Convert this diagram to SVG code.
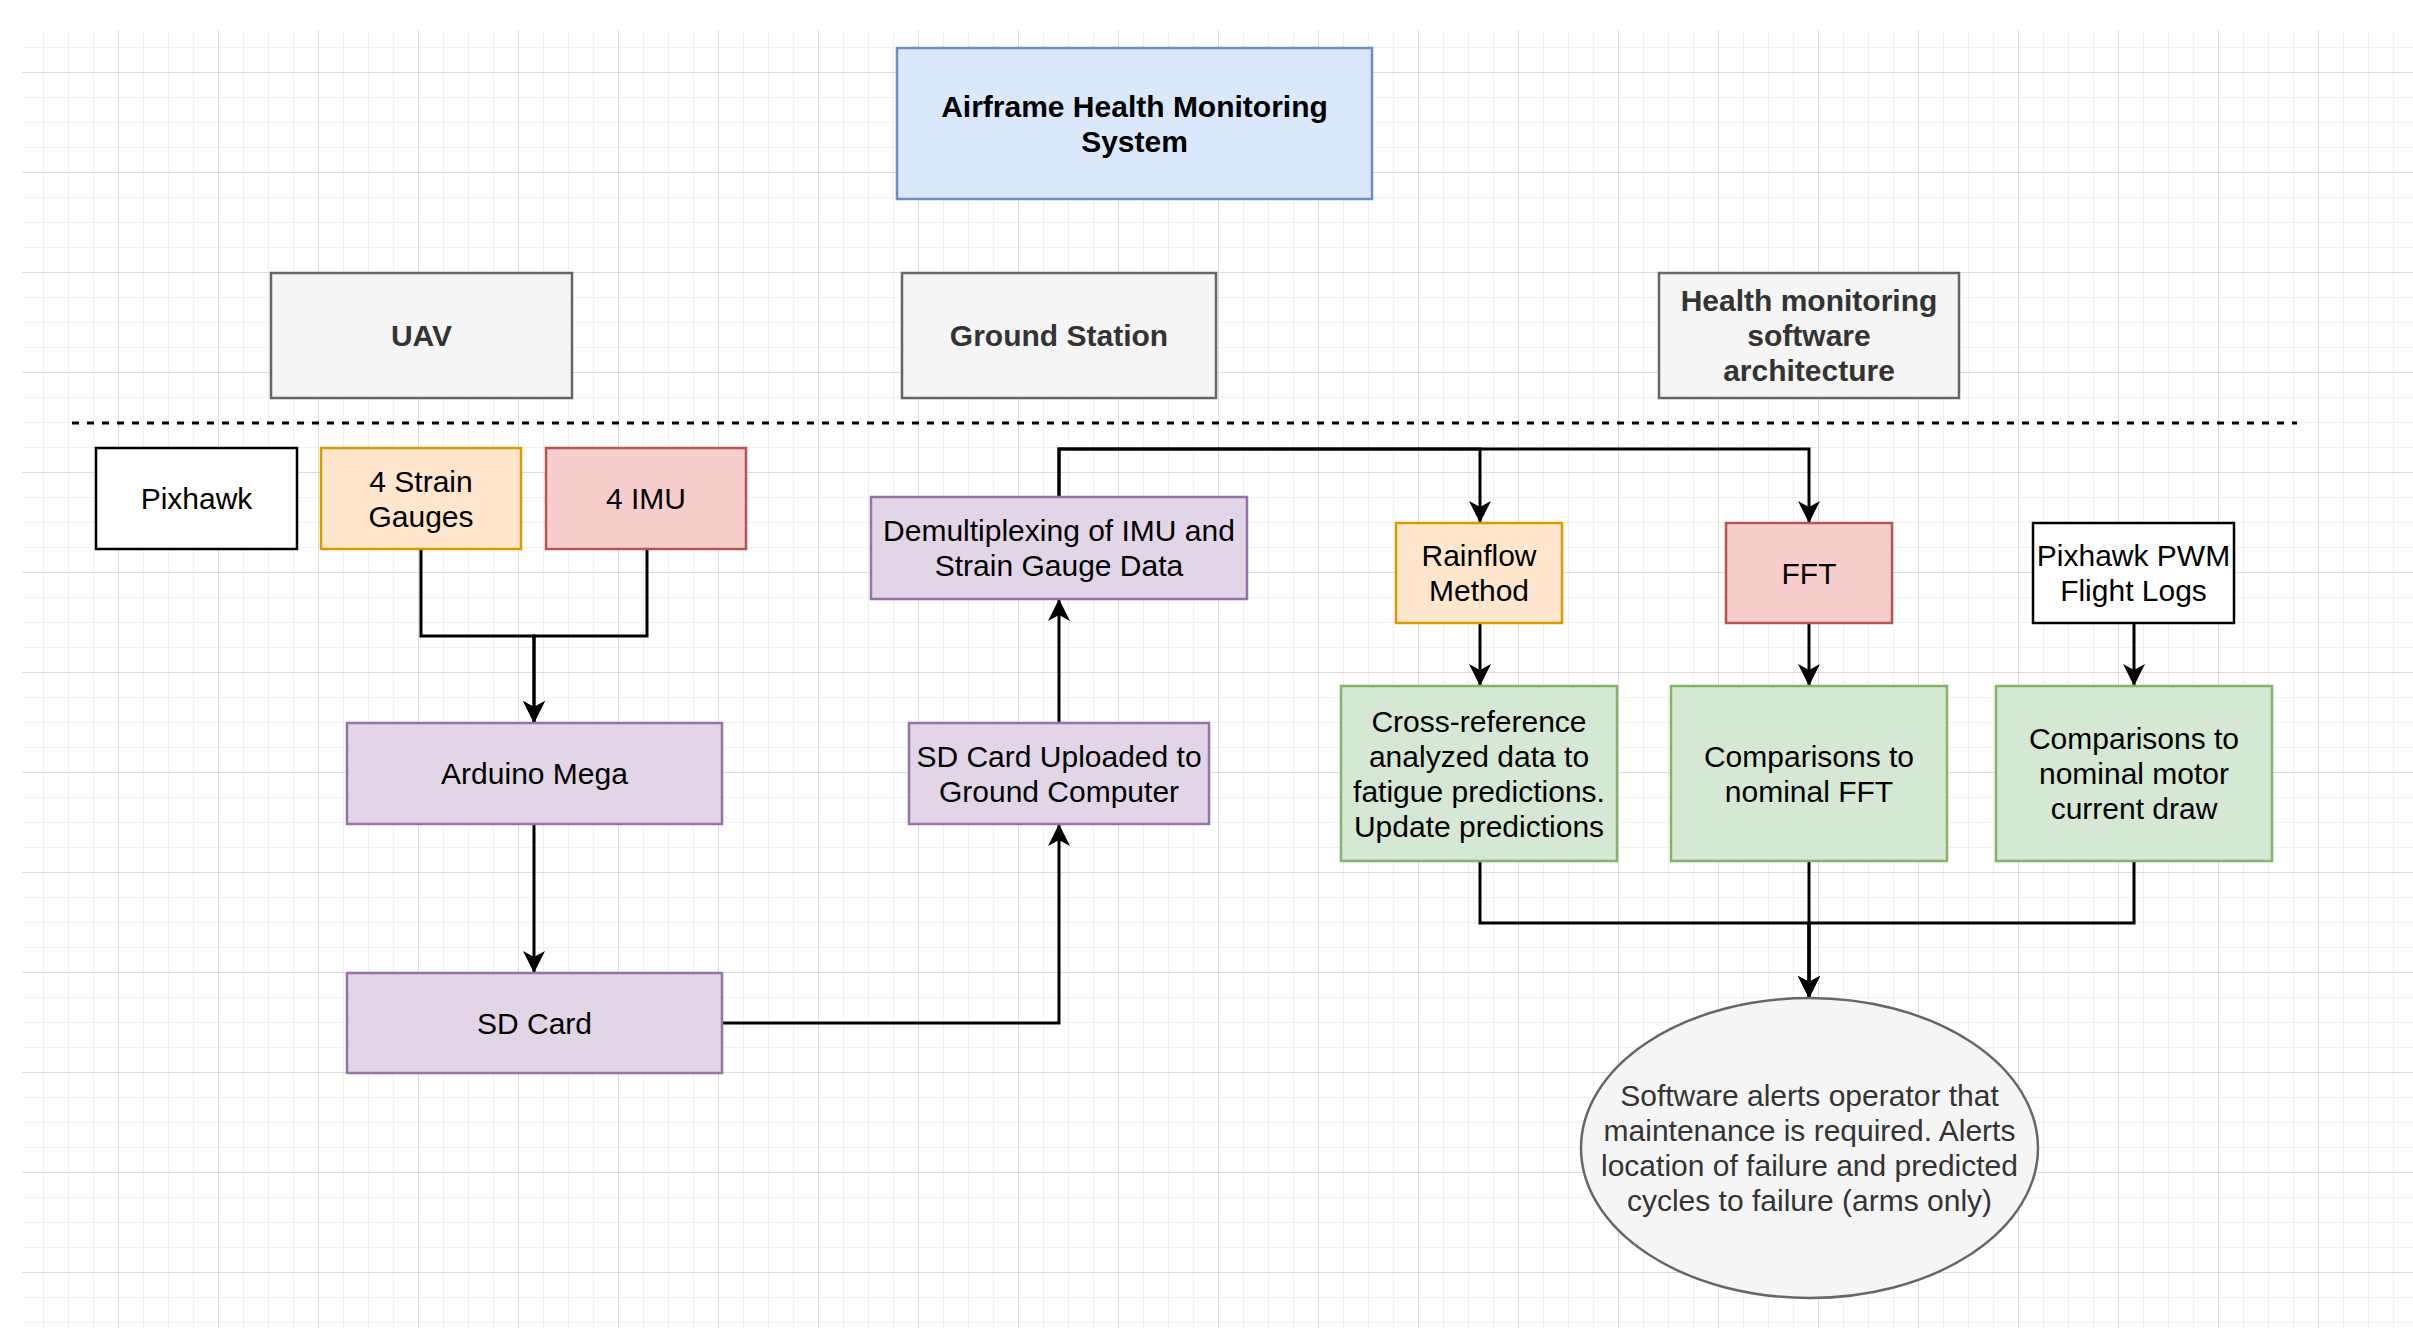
<svg xmlns="http://www.w3.org/2000/svg" width="2413" height="1328" viewBox="0 0 2413 1328">
<defs>
<pattern id="gMinor" patternUnits="userSpaceOnUse" x="18" y="22" width="25" height="25">
<rect x="-0.75" y="0" width="1.5" height="25" fill="#ececec"/>
<rect x="0" y="-0.75" width="25" height="1.5" fill="#ececec"/>
</pattern>
<pattern id="gMajor" patternUnits="userSpaceOnUse" x="18" y="72" width="100" height="100">
<rect x="-0.6" y="0" width="1.2" height="100" fill="#cfcfcf"/>
<rect x="0" y="-0.6" width="100" height="1.2" fill="#cfcfcf"/>
</pattern>
<marker id="arr" markerUnits="userSpaceOnUse" viewBox="0 0 22 22" refX="22" refY="11" markerWidth="22" markerHeight="22" orient="auto">
<path d="M0,0 L22,11 L0,22 L6,11 Z" fill="#000"/>
</marker>
</defs>
<style>
.t{font-family:"Liberation Sans",Arial,Helvetica,sans-serif;font-size:30px;text-anchor:middle;fill:#000}
.b{font-weight:bold}
.g{fill:#333333}
.blue{fill:#dae8fc;stroke:#6c8ebf;stroke-width:2.5}
.grey{fill:#f5f5f5;stroke:#666666;stroke-width:2.5}
.white{fill:#ffffff;stroke:#000000;stroke-width:2.5}
.orange{fill:#ffe6cc;stroke:#d79b00;stroke-width:2.5}
.red{fill:#f8cecc;stroke:#b85450;stroke-width:2.5}
.purple{fill:#e1d5e7;stroke:#9673a6;stroke-width:2.5}
.green{fill:#d5e8d4;stroke:#82b366;stroke-width:2.5}
.c{fill:none;stroke:#000;stroke-width:3}
.ca{fill:none;stroke:#000;stroke-width:3;marker-end:url(#arr)}
</style>
<rect x="0" y="0" width="2413" height="1328" fill="#ffffff"/>
<g id="grid">
<rect x="22" y="30" width="2391" height="1298" fill="url(#gMinor)"/>
<rect x="22" y="30" width="2391" height="1298" fill="url(#gMajor)"/>
</g>
<line id="separator" x1="72" y1="423" x2="2297" y2="423" stroke="#000" stroke-width="3" stroke-dasharray="7 8"/>
<g id="connectors">
<path class="ca" d="M421,549 V636 H534 V723"/>
<path class="ca" d="M647,549 V636 H534 V723"/>
<path class="ca" d="M534,824 V973"/>
<path class="ca" d="M722,1023 H1059 V824"/>
<path class="ca" d="M1059,723 V599"/>
<path class="ca" d="M1059,497 V449 H1480 V523"/>
<path class="ca" d="M1059,497 V449 H1809 V523"/>
<path class="ca" d="M1480,623 V686"/>
<path class="ca" d="M1809,623 V686"/>
<path class="ca" d="M2134,623 V686"/>
<path class="ca" d="M1480,861 V923 H1809 V998"/>
<path class="ca" d="M1809,861 V998"/>
<path class="ca" d="M2134,861 V923 H1809 V998"/>
</g>
<g id="airframe">
<rect class="blue" x="897" y="48" width="475" height="151"/>
<text class="t b" x="1134.5" y="116.5">Airframe Health Monitoring</text>
<text class="t b" x="1134.5" y="151.5">System</text>
</g>
<g id="uav">
<rect class="grey" x="271" y="273" width="301" height="125"/>
<text class="t b g" x="421.5" y="346">UAV</text>
</g>
<g id="ground-station">
<rect class="grey" x="902" y="273" width="314" height="125"/>
<text class="t b g" x="1059" y="346">Ground Station</text>
</g>
<g id="health-software">
<rect class="grey" x="1659" y="273" width="300" height="125"/>
<text class="t b g" x="1809" y="311">Health monitoring</text>
<text class="t b g" x="1809" y="346">software</text>
<text class="t b g" x="1809" y="381">architecture</text>
</g>
<g id="pixhawk">
<rect class="white" x="96" y="448" width="201" height="101"/>
<text class="t" x="196.5" y="509">Pixhawk</text>
</g>
<g id="strain-gauges">
<rect class="orange" x="321" y="448" width="200" height="101"/>
<text class="t" x="421" y="491.5">4 Strain</text>
<text class="t" x="421" y="526.5">Gauges</text>
</g>
<g id="imu">
<rect class="red" x="546" y="448" width="200" height="101"/>
<text class="t" x="646" y="509">4 IMU</text>
</g>
<g id="demux">
<rect class="purple" x="871" y="497" width="376" height="102"/>
<text class="t" x="1059" y="540.5">Demultiplexing of IMU and</text>
<text class="t" x="1059" y="575.5">Strain Gauge Data</text>
</g>
<g id="rainflow">
<rect class="orange" x="1396" y="523" width="166" height="100"/>
<text class="t" x="1479" y="565.5">Rainflow</text>
<text class="t" x="1479" y="600.5">Method</text>
</g>
<g id="fft">
<rect class="red" x="1726" y="523" width="166" height="100"/>
<text class="t" x="1809" y="583.5">FFT</text>
</g>
<g id="pwm-logs">
<rect class="white" x="2033" y="523" width="201" height="100"/>
<text class="t" x="2133.5" y="565.5">Pixhawk PWM</text>
<text class="t" x="2133.5" y="600.5">Flight Logs</text>
</g>
<g id="arduino">
<rect class="purple" x="347" y="723" width="375" height="101"/>
<text class="t" x="534.5" y="784">Arduino Mega</text>
</g>
<g id="sd-card">
<rect class="purple" x="347" y="973" width="375" height="100"/>
<text class="t" x="534.5" y="1033.5">SD Card</text>
</g>
<g id="sd-upload">
<rect class="purple" x="909" y="723" width="300" height="101"/>
<text class="t" x="1059" y="766.5">SD Card Uploaded to</text>
<text class="t" x="1059" y="801.5">Ground Computer</text>
</g>
<g id="cross-reference">
<rect class="green" x="1341" y="686" width="276" height="175"/>
<text class="t" x="1479" y="731.5">Cross-reference</text>
<text class="t" x="1479" y="766.5">analyzed data to</text>
<text class="t" x="1479" y="801.5">fatigue predictions.</text>
<text class="t" x="1479" y="836.5">Update predictions</text>
</g>
<g id="compare-fft">
<rect class="green" x="1671" y="686" width="276" height="175"/>
<text class="t" x="1809" y="766.5">Comparisons to</text>
<text class="t" x="1809" y="801.5">nominal FFT</text>
</g>
<g id="compare-motor">
<rect class="green" x="1996" y="686" width="276" height="175"/>
<text class="t" x="2134" y="749">Comparisons to</text>
<text class="t" x="2134" y="784">nominal motor</text>
<text class="t" x="2134" y="819">current draw</text>
</g>
<g id="alert">
<ellipse class="grey" cx="1809.5" cy="1148" rx="228.5" ry="150"/>
<text class="t g" x="1809.5" y="1106">Software alerts operator that</text>
<text class="t g" x="1809.5" y="1141">maintenance is required. Alerts</text>
<text class="t g" x="1809.5" y="1176">location of failure and predicted</text>
<text class="t g" x="1809.5" y="1211">cycles to failure (arms only)</text>
</g>
</svg>
